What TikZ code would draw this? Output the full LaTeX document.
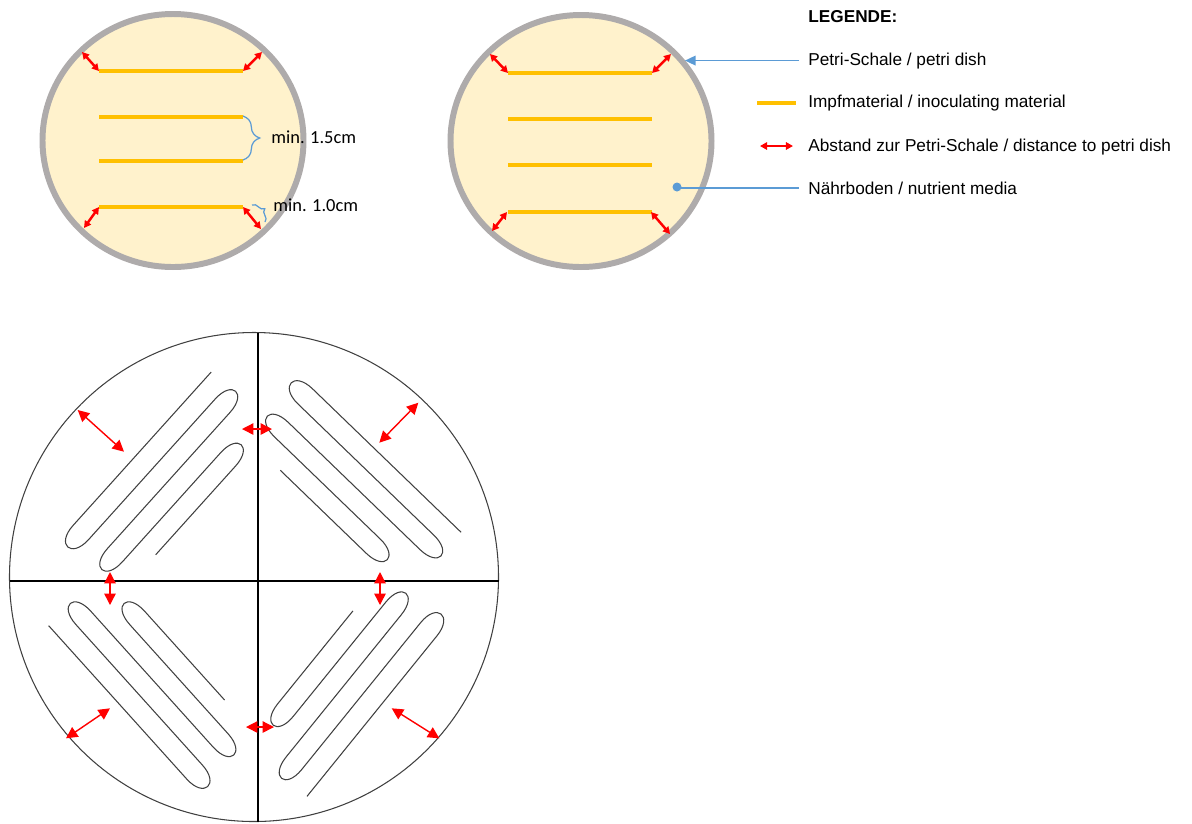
\documentclass[tikz,border=0pt]{standalone}
\usepackage{fontspec}
\setmainfont{Liberation Sans}
\newfontfamily\calibri{Carlito}
\usetikzlibrary{arrows.meta, calc, positioning, decorations.pathreplacing}

\definecolor{agar}{HTML}{FFF2CC}
\definecolor{rim}{HTML}{AEABAB}
\definecolor{inoc}{HTML}{FFC000}
\definecolor{callout}{HTML}{5B9BD5}
\definecolor{streak}{HTML}{404040}

\tikzset{
  dish/.style={draw=rim, line width=3.4pt, fill=agar},
  inocline/.style={inoc, line width=2.3pt},
  gaparrow/.style={red, line width=1.4pt, {Triangle[length=4pt,width=4.2pt]}-{Triangle[length=4pt,width=4.2pt]}},
  biggap/.style={red, line width=0.8pt, {Triangle[length=6.5pt,width=6.5pt]}-{Triangle[length=6.5pt,width=6.5pt]}},
  streakline/.style={streak, line width=0.6pt},
  calloutline/.style={callout, line width=0.8pt},
  bracemark/.style={callout, line width=0.7pt, decorate, decoration={brace, amplitude=#1}},
  legtext/.style={anchor=base west, inner sep=0pt, font=\fontsize{9.8}{12}\selectfont},
  mintext/.style={anchor=base west, inner sep=0pt, font=\calibri\fontsize{10.5}{12}\selectfont},
}

\begin{document}
\begin{tikzpicture}[x=0.02cm, y=-0.02cm]
    \useasboundingbox (0,0) rectangle (1192,823);

    % the two petri dishes on top
    \coordinate (dishL) at (173,140.5);
    \coordinate (dishR) at (581,141);
    \draw[dish] (dishL) ellipse[x radius=130.5, y radius=126.5];
    \draw[dish] (dishR) ellipse[x radius=130.5, y radius=126];

    \foreach \y in {71,117,161,207} \draw[inocline] (99,\y) -- (243,\y);
    \foreach \y in {73,119,165,212} \draw[inocline] (508,\y) -- (652,\y);

    \draw[gaparrow] (82,52) -- (99,71);
    \draw[gaparrow] (243,71) -- (262,52);
    \draw[gaparrow] (99,207) -- (84,228);
    \draw[gaparrow] (243,207) -- (261,229);
    \draw[gaparrow] (490,54) -- (508,73);
    \draw[gaparrow] (652,73) -- (671,54);
    \draw[gaparrow] (507,212) -- (492,231);
    \draw[gaparrow] (651,212) -- (670,234);

    \draw[bracemark=9.5pt] (243,116) -- (243,160);
    \draw[bracemark=4.5pt] (252,205) -- (265,222);
    \node[mintext] (minGap) at (271,143.3) {min. 1.5cm};
    \node[mintext] (minEdge) at (273,211) {min. 1.0cm};

    % legend
    \node[legtext, font=\bfseries\fontsize{9.8}{12}\selectfont] (legTitle) at (808,22.7) {LEGENDE:};
    \node[legtext] (legDish) at (808,65) {Petri-Schale / petri dish};
    \node[legtext] (legInoc) at (808,107.5) {Impfmaterial / inoculating material};
    \node[legtext] (legDist) at (808,151.5) {Abstand zur Petri-Schale / distance to petri dish};
    \node[legtext] (legMedia) at (808,194) {Nährboden / nutrient media};

    \coordinate (rimHit) at (685,62);
    \coordinate (agarHit) at (677,187);
    \draw[calloutline, shorten <=5pt, -{Triangle[length=6pt,width=5.5pt]}] (legDish.west) -- (legDish.west -| rimHit);
    \fill[callout] (agarHit) circle[radius=4.5];
    \draw[calloutline, shorten <=5pt] (legMedia.west) -- (legMedia.west -| agarHit);
    \draw[inocline] (757,103) -- (796,103);
    \draw[gaparrow, line width=1.1pt] (760,146) -- (793,146);

    % streak plate below
    \coordinate (plate) at (254,577);
    \draw[streakline] (plate) circle[radius=244.5];
    \draw[black, line width=0.8pt] (9.5,581) -- (498.5,581);
    \draw[black, line width=0.8pt] (258,332.5) -- (258,821.5);

    \foreach \cx/\cy/\ang in {166/482/48, 352.7/483.2/-44, 153.3/682.1/132, 346.4/684.1/231}{
        \begin{scope}[shift={(\cx,\cy)}, rotate=\ang]
            \draw[streakline] (112,-40) -- (-94.5,-40) .. controls +(-26,0) and +(-26,0) .. (-94.5,-19)
                -- (94.5,-19) .. controls +(26,0) and +(26,0) .. (94.5,1)
                -- (-88.5,1) .. controls +(-26,0) and +(-26,0) .. (-88.5,21)
                -- (58.5,21) .. controls +(26,0) and +(26,0) .. (58.5,41) -- (-61,41);
        \end{scope}
    }

    \draw[biggap] (77.7,410) -- (124,451.7);
    \draw[biggap] (242,429) -- (272,429);
    \draw[biggap] (418.3,402.7) -- (379.3,442.7);
    \draw[biggap] (110,572) -- (110,605);
    \draw[biggap] (380,572) -- (380,605);
    \draw[biggap] (66,738.3) -- (110,708.3);
    \draw[biggap] (246,727) -- (274,727);
    \draw[biggap] (391.7,708.3) -- (439.3,738.3);

\end{tikzpicture}
\end{document}
